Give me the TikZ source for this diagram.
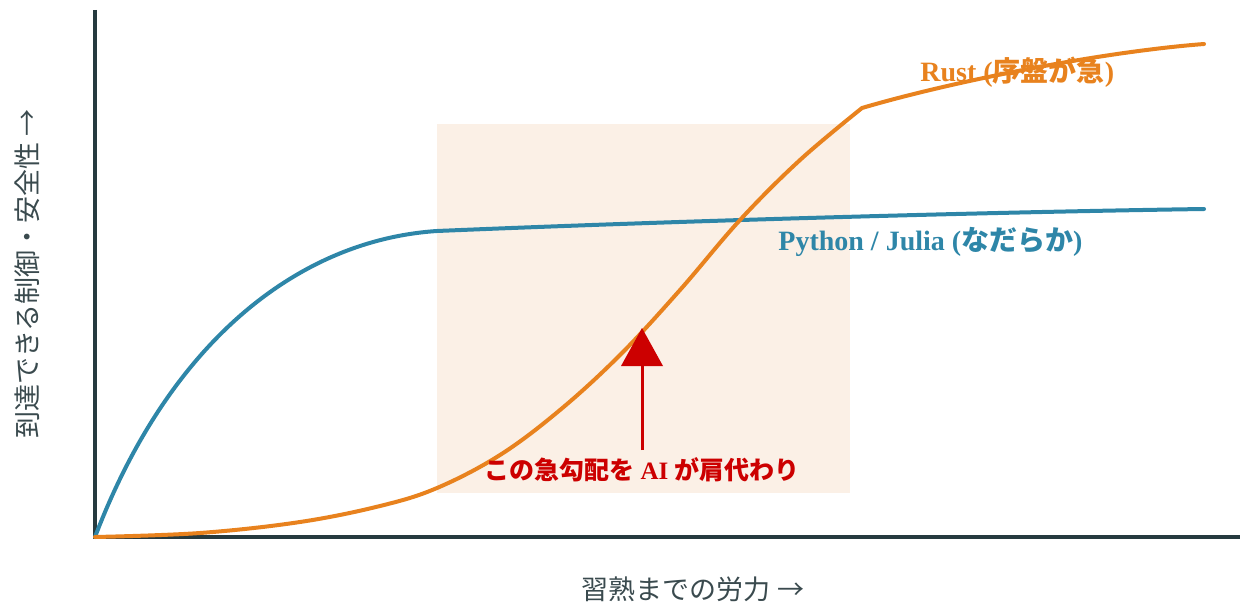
\documentclass[tikz,border=0pt]{standalone}
\usepackage{fontspec}
\setmainfont{Liberation Serif}
\newfontfamily\cjk{Noto Sans CJK JP}
\definecolor{axiscol}{HTML}{263A3F}
\definecolor{bluecol}{HTML}{2E86A8}
\definecolor{orangecol}{HTML}{E8821E}
\definecolor{redcol}{HTML}{CC0000}
\definecolor{shadecol}{HTML}{FBF0E6}
\definecolor{labelcol}{HTML}{3A4A4E}
\begin{document}
\begin{tikzpicture}[x=0.5pt,y=-0.5pt,
  axisline/.style={draw=axiscol,line width=2pt},
  curve/.style={line width=2pt,line cap=round,line join=round},
  axislabel/.style={text=labelcol,font=\fontsize{13.5pt}{16pt}\selectfont\cjk,inner sep=0pt},
  curvelabel/.style={font=\fontsize{14pt}{17pt}\selectfont\bfseries,inner sep=0pt,anchor=west}]
\useasboundingbox (0,0) rectangle (1240,604);
\fill[shadecol] (437,124) rectangle (850,493);
% axes
\coordinate (O) at (95,537);
\coordinate (ytop) at (95,10);
\coordinate (xend) at (1240,537);
\draw[axisline] (ytop) -- (O) -- (xend);
% blue curve
\coordinate (b1) at (437,231);
\coordinate (b2) at (1204,209);
\draw[curve,bluecol] (O) .. controls (170,340) and (300,240) .. (b1)
  .. controls (700,220) and (1000,212) .. (b2);
% orange curve
\coordinate (o1) at (862,108);
\coordinate (o2) at (1204,44);
\draw[curve,orangecol] plot[smooth,tension=0.6] coordinates {(95,537) (200,533) (300,522) (380,506) (437,488) (500,455) (560,410) (620,355) (680,290) (740,220) (800,160) (862,108)}
  .. controls (950,82) and (1100,52) .. (o2);
% red arrow
\coordinate (abase) at (642,450);
\coordinate (atip) at (642,328);
\draw[redcol,line width=1.5pt] (abase) -- (642,362);
\fill[redcol] (atip) -- (663,366) -- (621,366) -- cycle;
% labels
\node[curvelabel,text=orangecol] (rust) at (920,72) {Rust ({\cjk 序盤が急})};
\node[curvelabel,text=bluecol] (py) at (778,242) {Python / Julia ({\cjk なだらか})};
\node[curvelabel,text=redcol,anchor=center,font=\fontsize{12.5pt}{15pt}\selectfont\bfseries] (ai) at (642,470) {{\cjk この急勾配を} AI {\cjk が肩代わり}};
\node[axislabel,rotate=90] (ylab) at (27,274) {到達できる制御・安全性 →};
\node[axislabel] (xlab) at (693,589) {習熟までの労力 →};
\end{tikzpicture}
\end{document}
